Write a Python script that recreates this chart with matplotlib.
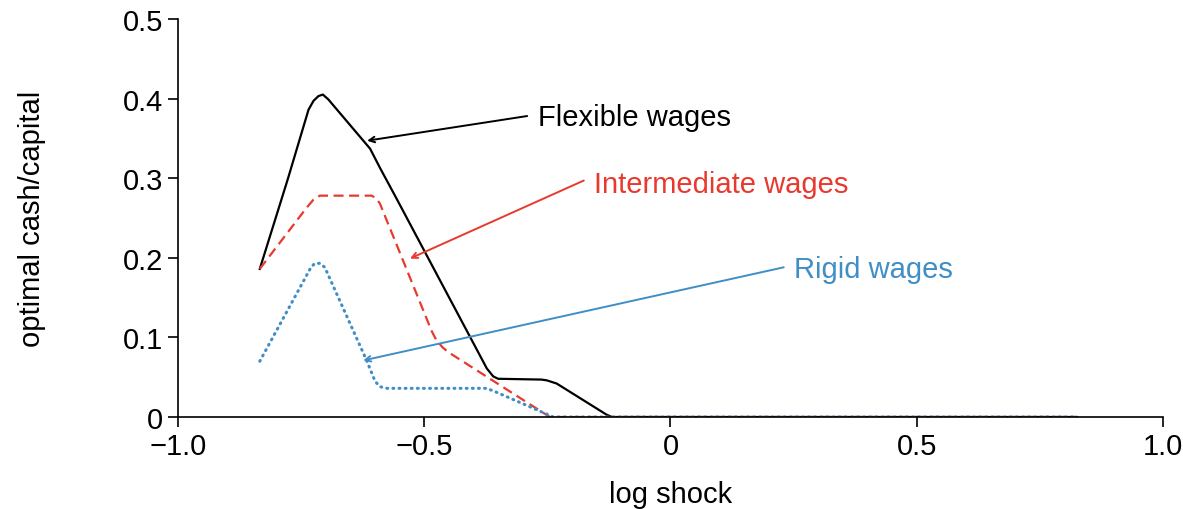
import matplotlib.pyplot as plt

plt.rcParams['font.family'] = ['Liberation Sans', 'DejaVu Sans']

# values
flex_x = [-0.834, -0.777, -0.735, -0.725, -0.715, -0.706, -0.695, -0.610, -0.590, -0.556,
          -0.385, -0.373, -0.360, -0.350, -0.262, -0.251, -0.231, -0.130, -0.119, 0.825]
flex_y = [0.186, 0.299, 0.386, 0.397, 0.403, 0.405, 0.399, 0.337, 0.313, 0.274,
          0.075, 0.061, 0.051, 0.048, 0.047, 0.046, 0.042, 0.003, 0.0, 0.0]

mid_x = [-0.834, -0.740, -0.725, -0.712, -0.607, -0.598, -0.590, -0.485, -0.475,
         -0.462, -0.450, -0.245, 0.825]
mid_y = [0.186, 0.262, 0.273, 0.278, 0.278, 0.275, 0.268, 0.108, 0.096,
         0.087, 0.081, 0.0, 0.0]

rigid_x = [-0.834, -0.730, -0.722, -0.712, -0.702, -0.617, -0.600, -0.590, -0.575,
           -0.373, -0.353, -0.238, 0.825]
rigid_y = [0.070, 0.188, 0.193, 0.193, 0.188, 0.071, 0.045, 0.038, 0.036,
           0.036, 0.031, 0.0, 0.0]

x_ticks = [-1.0, -0.5, 0.0, 0.5, 1.0]
x_tick_labels = ['\u22121.0', '\u22120.5', '0', '0.5', '1.0']
y_ticks = [0, 0.1, 0.2, 0.3, 0.4, 0.5]
y_tick_labels = ['0', '0.1', '0.2', '0.3', '0.4', '0.5']

RED = '#e8392e'
BLUE = '#3f8ec6'
FS = 21

fig = plt.figure(figsize=(11.83, 5.10), dpi=100)
ax = fig.add_axes([0.1505, 0.1804, 0.8325, 0.7806])

ax.plot(flex_x, flex_y, color='black', lw=1.6)
ax.plot(mid_x, mid_y, color=RED, lw=1.6, dashes=(4.5, 2.5))
ax.plot(rigid_x, rigid_y, color=BLUE, lw=2.2, linestyle=(0, (0.3, 1.7)),
        dash_capstyle='round')

ax.set_xlim(-1.0, 1.0)
ax.set_ylim(0, 0.5)
ax.set_xticks(x_ticks, x_tick_labels)
ax.set_yticks(y_ticks, y_tick_labels)
ax.tick_params(direction='out', length=7, width=1.2, labelsize=FS, pad=4)
for side in ['top', 'right']:
    ax.spines[side].set_visible(False)
for side in ['left', 'bottom']:
    ax.spines[side].set_linewidth(1.2)

ax.set_xlabel('log shock', fontsize=FS, labelpad=14)
ax.set_ylabel('optimal cash/capital', fontsize=FS, labelpad=55)

# labels with arrows
labels = [
    ('Flexible wages', 'black', (-0.291, 0.378), (-0.616, 0.347), (-0.269, 0.377)),
    ('Intermediate wages', RED, (-0.176, 0.297), (-0.529, 0.199), (-0.155, 0.293)),
    ('Rigid wages', BLUE, (0.230, 0.188), (-0.624, 0.071), (0.251, 0.186)),
]
for text, col, tail, head, pos in labels:
    ax.annotate('', xy=head, xytext=tail,
                arrowprops=dict(arrowstyle='->', color=col, lw=1.4,
                                shrinkA=0, shrinkB=0, mutation_scale=10))
    ax.text(pos[0], pos[1], text, color=col, fontsize=FS, ha='left', va='center')

fig.savefig('out.png', dpi=100)
